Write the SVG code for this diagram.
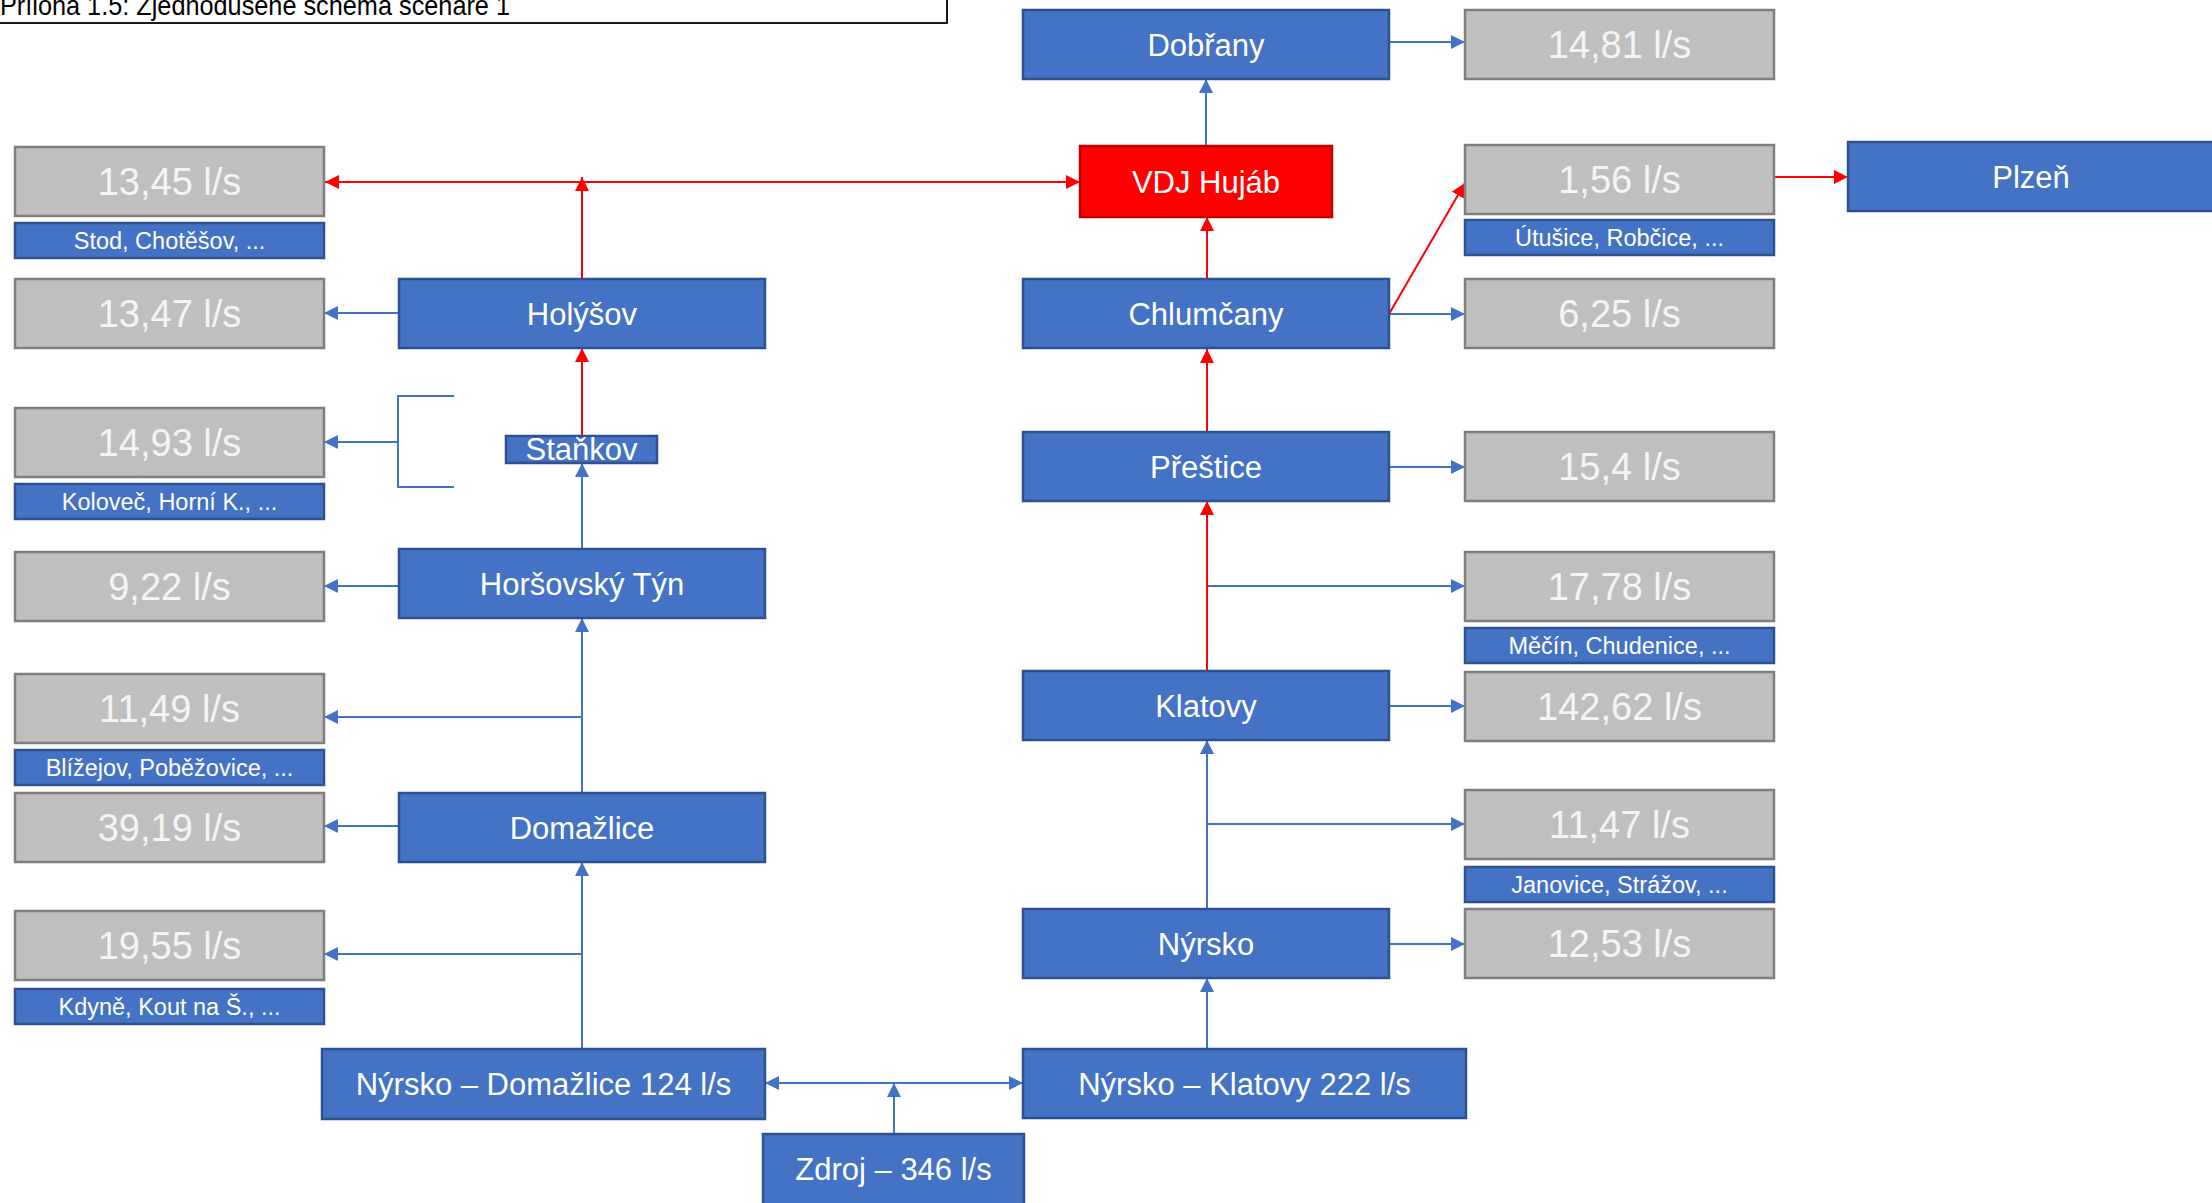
<svg xmlns="http://www.w3.org/2000/svg" width="2212" height="1203" viewBox="0 0 2212 1203">
<defs>
<style>
.bn{fill:#4472c4;stroke:#2f528f;stroke-width:2.5}
.gn{fill:#bfbfbf;stroke:#7f7f7f;stroke-width:2.5}
.rn{fill:#ff0000;stroke:#c00000;stroke-width:2.5}
.lb{fill:#4472c4;stroke:#2f528f;stroke-width:2.5}
text{font-family:"Liberation Sans",Arial,sans-serif;text-anchor:middle}
.tn{fill:#ffffff;font-size:31px}
.tg{fill:#f4f4f4;font-size:38px}
.tl{fill:#ffffff;font-size:23.5px}
.cb{fill:none;stroke:#4472c4;stroke-width:2}
.cr{fill:none;stroke:#ff0000;stroke-width:2}
</style>
<marker id="ab" viewBox="0 0 14 14" refX="14" refY="7" markerWidth="14" markerHeight="14" markerUnits="userSpaceOnUse" orient="auto-start-reverse"><path d="M0,0 L14,7 L0,14 z" fill="#4472c4"/></marker>
<marker id="ar" viewBox="0 0 14 14" refX="14" refY="7" markerWidth="14" markerHeight="14" markerUnits="userSpaceOnUse" orient="auto-start-reverse"><path d="M0,0 L14,7 L0,14 z" fill="#ff0000"/></marker>
</defs>
<rect width="2212" height="1203" fill="#ffffff"/>

<g id="title">
<rect x="-5" y="-20" width="952" height="43" fill="#ffffff" stroke="#000000" stroke-width="1.8"/>
<text x="0" y="15" textLength="510" lengthAdjust="spacingAndGlyphs" style="text-anchor:start;font-size:28px;fill:#000000">Příloha 1.5: Zjednodušené schéma scénáře 1</text>
</g>

<g id="connectors">
<path class="cb" d="M1390,42 H1465" marker-end="url(#ab)"/>
<path class="cb" d="M1206,146 V79" marker-end="url(#ab)"/>
<path class="cb" d="M1389,314 H1465" marker-end="url(#ab)"/>
<path class="cb" d="M1389,467 H1465" marker-end="url(#ab)"/>
<path class="cb" d="M1207,586 H1465" marker-end="url(#ab)"/>
<path class="cb" d="M1389,706 H1465" marker-end="url(#ab)"/>
<path class="cb" d="M1207,909 V740" marker-end="url(#ab)"/>
<path class="cb" d="M1207,824 H1465" marker-end="url(#ab)"/>
<path class="cb" d="M1389,944 H1465" marker-end="url(#ab)"/>
<path class="cb" d="M1207,1049 V978" marker-end="url(#ab)"/>
<path class="cb" d="M765,1083 H1023" marker-start="url(#ab)" marker-end="url(#ab)"/>
<path class="cb" d="M894,1134 V1083" marker-end="url(#ab)"/>
<path class="cb" d="M582,1049 V862" marker-end="url(#ab)"/>
<path class="cb" d="M582,954 H324" marker-end="url(#ab)"/>
<path class="cb" d="M399,826 H324" marker-end="url(#ab)"/>
<path class="cb" d="M582,793 V618" marker-end="url(#ab)"/>
<path class="cb" d="M582,717 H324" marker-end="url(#ab)"/>
<path class="cb" d="M399,586 H324" marker-end="url(#ab)"/>
<path class="cb" d="M582,549 V463" marker-end="url(#ab)"/>
<path class="cb" d="M454,396 H398 V487 H454"/>
<path class="cb" d="M398,442 H324" marker-end="url(#ab)"/>
<path class="cb" d="M399,313 H324" marker-end="url(#ab)"/>

<path class="cr" d="M1207,671 V501" marker-end="url(#ar)"/>
<path class="cr" d="M1207,432 V349" marker-end="url(#ar)"/>
<path class="cr" d="M1207,279 V217" marker-end="url(#ar)"/>
<path class="cr" d="M1389,314 L1465,183" marker-end="url(#ar)"/>
<path class="cr" d="M1774,177 H1848" marker-end="url(#ar)"/>
<path class="cr" d="M325,182 H1080" marker-start="url(#ar)" marker-end="url(#ar)"/>
<path class="cr" d="M582,279 V177" marker-end="url(#ar)"/>
<path class="cr" d="M582,436 V348" marker-end="url(#ar)"/>
</g>

<g id="n-1345"><rect class="gn" x="15" y="147" width="309" height="69"/><text class="tg" x="169.5" y="195">13,45 l/s</text></g>
<g id="l-stod"><rect class="lb" x="15" y="223" width="309" height="35"/><text class="tl" x="169.5" y="249">Stod, Chotěšov, ...</text></g>
<g id="n-1347"><rect class="gn" x="15" y="279" width="309" height="69"/><text class="tg" x="169.5" y="327">13,47 l/s</text></g>
<g id="n-1493"><rect class="gn" x="15" y="408" width="309" height="69"/><text class="tg" x="169.5" y="456">14,93 l/s</text></g>
<g id="l-kolovec"><rect class="lb" x="15" y="484" width="309" height="35"/><text class="tl" x="169.5" y="510">Koloveč, Horní K., ...</text></g>
<g id="n-922"><rect class="gn" x="15" y="552" width="309" height="69"/><text class="tg" x="169.5" y="600">9,22 l/s</text></g>
<g id="n-1149"><rect class="gn" x="15" y="674" width="309" height="69"/><text class="tg" x="169.5" y="722">11,49 l/s</text></g>
<g id="l-blizejov"><rect class="lb" x="15" y="750" width="309" height="35"/><text class="tl" x="169.5" y="776">Blížejov, Poběžovice, ...</text></g>
<g id="n-3919"><rect class="gn" x="15" y="793" width="309" height="69"/><text class="tg" x="169.5" y="841">39,19 l/s</text></g>
<g id="n-1955"><rect class="gn" x="15" y="911" width="309" height="69"/><text class="tg" x="169.5" y="959">19,55 l/s</text></g>
<g id="l-kdyne"><rect class="lb" x="15" y="989" width="309" height="35"/><text class="tl" x="169.5" y="1015">Kdyně, Kout na Š., ...</text></g>

<g id="holysov"><rect class="bn" x="399" y="279" width="366" height="69"/><text class="tn" x="582" y="325">Holýšov</text></g>
<g id="stankov"><rect class="bn" x="506" y="436" width="151" height="27"/><text class="tn" x="581.5" y="460">Staňkov</text></g>
<g id="horsovsky-tyn"><rect class="bn" x="399" y="549" width="366" height="69"/><text class="tn" x="582" y="595">Horšovský Týn</text></g>
<g id="domazlice"><rect class="bn" x="399" y="793" width="366" height="69"/><text class="tn" x="582" y="839">Domažlice</text></g>
<g id="nyrsko-domazlice"><rect class="bn" x="322" y="1049" width="443" height="70"/><text class="tn" x="543.5" y="1095">Nýrsko – Domažlice 124 l/s</text></g>
<g id="zdroj"><rect class="bn" x="763" y="1134" width="261" height="71"/><text class="tn" x="893.5" y="1180">Zdroj – 346 l/s</text></g>

<g id="dobrany"><rect class="bn" x="1023" y="10" width="366" height="69"/><text class="tn" x="1206" y="56">Dobřany</text></g>
<g id="vdj-hujab"><rect class="rn" x="1080" y="146" width="252" height="71"/><text class="tn" x="1206" y="193">VDJ Hujáb</text></g>
<g id="chlumcany"><rect class="bn" x="1023" y="279" width="366" height="69"/><text class="tn" x="1206" y="325">Chlumčany</text></g>
<g id="prestice"><rect class="bn" x="1023" y="432" width="366" height="69"/><text class="tn" x="1206" y="478">Přeštice</text></g>
<g id="klatovy"><rect class="bn" x="1023" y="671" width="366" height="69"/><text class="tn" x="1206" y="717">Klatovy</text></g>
<g id="nyrsko"><rect class="bn" x="1023" y="909" width="366" height="69"/><text class="tn" x="1206" y="955">Nýrsko</text></g>
<g id="nyrsko-klatovy"><rect class="bn" x="1023" y="1049" width="443" height="69"/><text class="tn" x="1244.5" y="1095">Nýrsko – Klatovy 222 l/s</text></g>
<g id="plzen"><rect class="bn" x="1848" y="142" width="366" height="69"/><text class="tn" x="2031" y="188">Plzeň</text></g>

<g id="n-1481"><rect class="gn" x="1465" y="10" width="309" height="69"/><text class="tg" x="1619.5" y="58">14,81 l/s</text></g>
<g id="n-156"><rect class="gn" x="1465" y="145" width="309" height="69"/><text class="tg" x="1619.5" y="193">1,56 l/s</text></g>
<g id="l-utusice"><rect class="lb" x="1465" y="220" width="309" height="35"/><text class="tl" x="1619.5" y="246">Útušice, Robčice, ...</text></g>
<g id="n-625"><rect class="gn" x="1465" y="279" width="309" height="69"/><text class="tg" x="1619.5" y="327">6,25 l/s</text></g>
<g id="n-154"><rect class="gn" x="1465" y="432" width="309" height="69"/><text class="tg" x="1619.5" y="480">15,4 l/s</text></g>
<g id="n-1778"><rect class="gn" x="1465" y="552" width="309" height="69"/><text class="tg" x="1619.5" y="600">17,78 l/s</text></g>
<g id="l-mecin"><rect class="lb" x="1465" y="628" width="309" height="35"/><text class="tl" x="1619.5" y="654">Měčín, Chudenice, ...</text></g>
<g id="n-14262"><rect class="gn" x="1465" y="672" width="309" height="69"/><text class="tg" x="1619.5" y="720">142,62 l/s</text></g>
<g id="n-1147"><rect class="gn" x="1465" y="790" width="309" height="69"/><text class="tg" x="1619.5" y="838">11,47 l/s</text></g>
<g id="l-janovice"><rect class="lb" x="1465" y="867" width="309" height="35"/><text class="tl" x="1619.5" y="893">Janovice, Strážov, ...</text></g>
<g id="n-1253"><rect class="gn" x="1465" y="909" width="309" height="69"/><text class="tg" x="1619.5" y="957">12,53 l/s</text></g>
</svg>
